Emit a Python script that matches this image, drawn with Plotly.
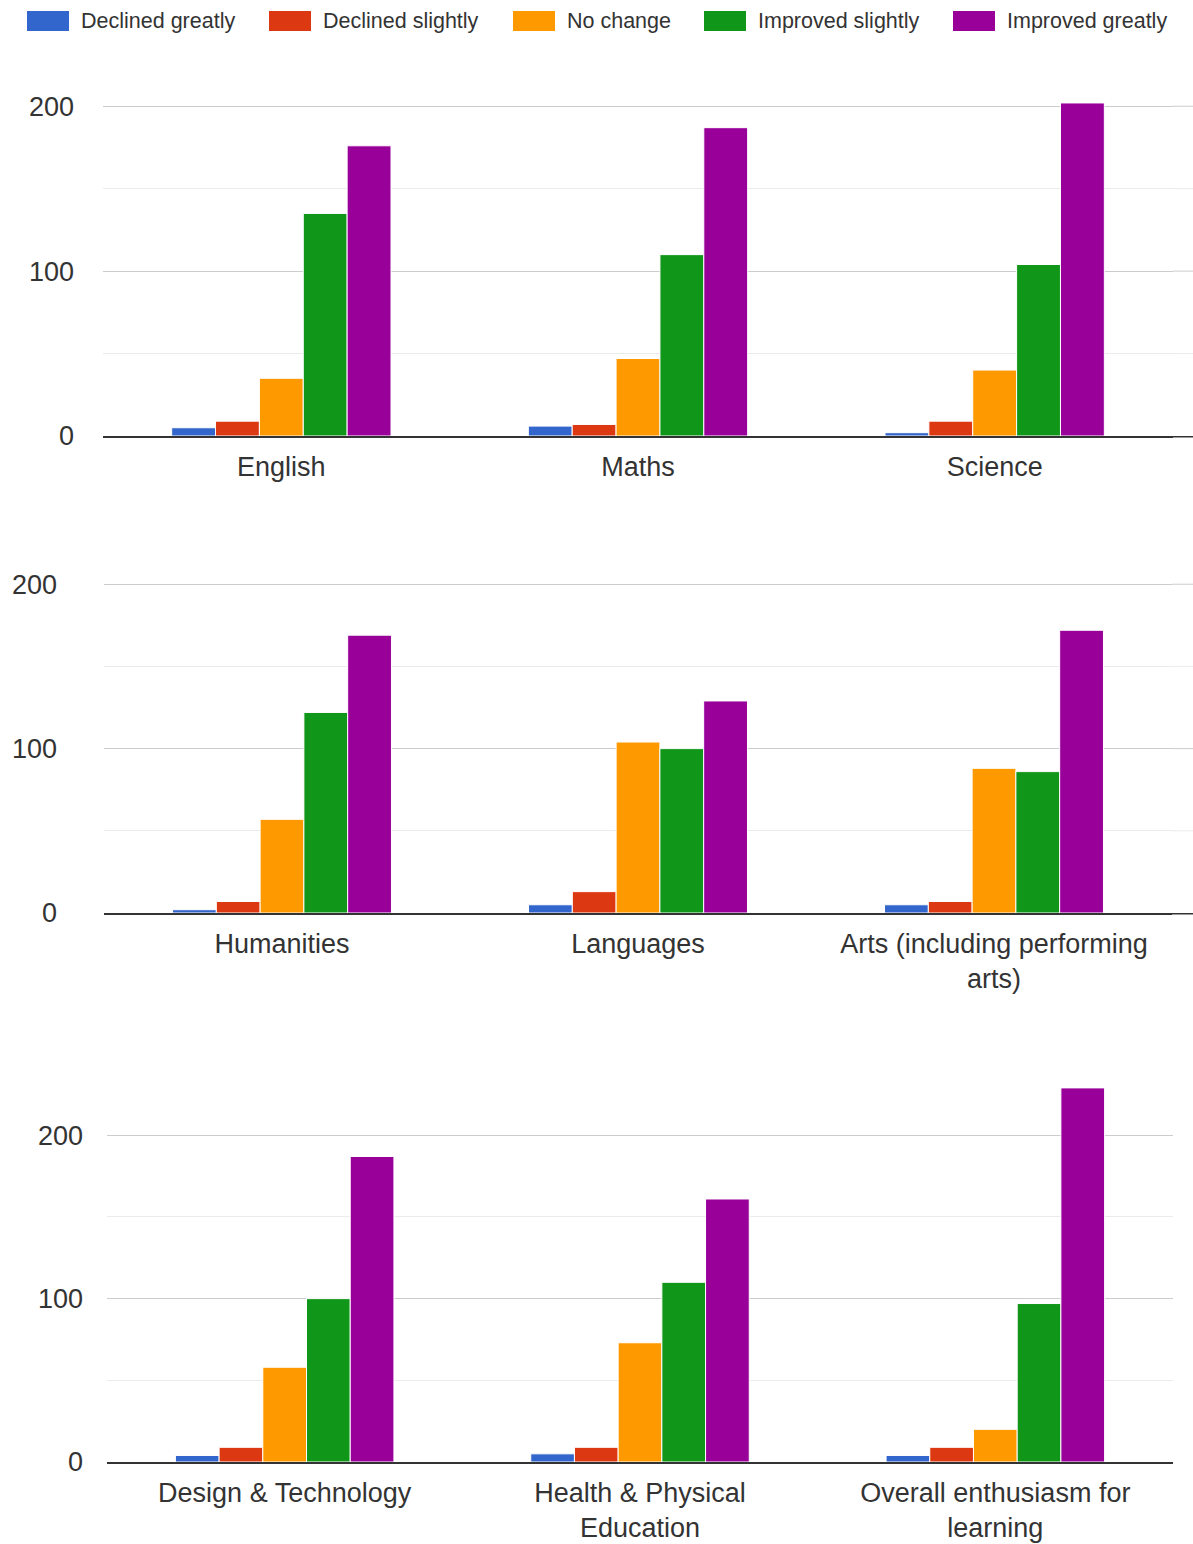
import plotly.graph_objects as go

series_names = ["Declined greatly", "Declined slightly", "No change", "Improved slightly", "Improved greatly"]
series_colors = ["#3366cc", "#dc3912", "#ff9900", "#109618", "#990099"]

panel1_cats = ["English", "Maths", "Science"]
panel2_cats = ["Humanities", "Languages", "Arts (including performing<br>arts)"]
panel3_cats = ["Design & Technology", "Health & Physical<br>Education", "Overall enthusiasm for<br>learning"]

# values per series, per panel (order follows categories)
declined_greatly = [[5, 6, 2], [2, 5, 5], [4, 5, 4]]
declined_slightly = [[9, 7, 9], [7, 13, 7], [9, 9, 9]]
no_change = [[35, 47, 40], [57, 104, 88], [58, 73, 20]]
improved_slightly = [[135, 110, 104], [122, 100, 86], [100, 110, 97]]
improved_greatly = [[176, 187, 202], [169, 129, 172], [187, 161, 229]]

y_ticks = [0, 100, 200]
y_minor = [50, 150]

series_values = [declined_greatly, declined_slightly, no_change, improved_slightly, improved_greatly]
panels = [panel1_cats, panel2_cats, panel3_cats]

W, H = 1193, 1544
FONT = "Liberation Sans, Arial, sans-serif"
TXT = "#333333"
GRID = "#cccccc"
MINOR = "#ebebeb"
BASE = "#333333"
BASE_W = 1.5

fig = go.Figure()
for p, cats in enumerate(panels):
    for s, name in enumerate(series_names):
        fig.add_trace(go.Bar(
            x=cats, y=series_values[s][p], name=name,
            marker=dict(color=series_colors[s], line=dict(color="white", width=1)),
            xaxis="x" if p == 0 else f"x{p+1}",
            yaxis="y" if p == 0 else f"y{p+1}",
            showlegend=False,
            hoverinfo="x+y+name",
        ))

# panel geometry in pixels: (left, right, bottom, top, ymax, label standoff, grid right end)
geo = [
    (103, 1173, 436, 98, 205, 28, 1193),
    (104, 1172, 913, 576, 205, 46, 1193),
    (107, 1173, 1462, 1083, 232, 23, 1173),
]

layout = dict(
    width=W, height=H,
    margin=dict(l=0, r=0, t=0, b=0),
    paper_bgcolor="white", plot_bgcolor="white",
    barmode="group", bargap=0.385, bargroupgap=0.0,
    font=dict(family=FONT, color=TXT, size=27),
    showlegend=False,
)
shapes, annotations = [], []
for i, (l, r, b, t, ymax, stand, gr) in enumerate(geo):
    sx = "" if i == 0 else str(i + 1)
    layout[f"xaxis{sx}"] = dict(
        domain=[l / W, r / W], anchor=f"y{sx}", type="category", automargin=False,
        showline=True, linecolor=BASE, linewidth=BASE_W,
        showgrid=False, ticks="", ticklabelstandoff=6,
        tickfont=dict(size=27, color=TXT), fixedrange=True,
    )
    layout[f"yaxis{sx}"] = dict(
        domain=[1 - b / H, 1 - t / H], anchor=f"x{sx}", automargin=False,
        range=[0, ymax], tickvals=y_ticks, showgrid=True, gridcolor=GRID, gridwidth=1,
        minor=dict(dtick=50, tick0=0, showgrid=True, gridcolor=MINOR, gridwidth=1),
        zeroline=False, ticks="", ticklabelstandoff=stand,
        tickfont=dict(size=27, color=TXT), fixedrange=True,
    )
    # gridlines and baseline run on past the plotting area to the right edge
    if gr > r:
        yref = f"y{sx}"
        for v in y_minor:
            shapes.append(dict(type="line", xref="paper", yref=yref, x0=r / W, x1=gr / W,
                               y0=v, y1=v, line=dict(color=MINOR, width=1), layer="below"))
        for v in y_ticks[1:]:
            shapes.append(dict(type="line", xref="paper", yref=yref, x0=r / W, x1=gr / W,
                               y0=v, y1=v, line=dict(color=GRID, width=1), layer="below"))
        yb = 1 - (b + BASE_W / 2) / H
        shapes.append(dict(type="line", xref="paper", yref="paper", x0=(r - 1) / W, x1=gr / W,
                           y0=yb, y1=yb, line=dict(color=BASE, width=BASE_W)))
fig.update_layout(**layout)

# custom legend (swatch rectangles + labels) across the top
legend_swatch_left = [27, 269, 513, 704, 953]
for x0, name, col in zip(legend_swatch_left, series_names, series_colors):
    shapes.append(dict(type="rect", xref="paper", yref="paper",
                       x0=x0 / W, x1=(x0 + 42) / W, y0=1 - 31 / H, y1=1 - 11 / H,
                       fillcolor=col, line=dict(width=0)))
    annotations.append(dict(text=name, xref="paper", yref="paper",
                            x=(x0 + 52) / W, y=1 - 21 / H, xanchor="left", yanchor="middle",
                            showarrow=False, font=dict(size=21.5, color=TXT, family=FONT)))
fig.update_layout(shapes=shapes, annotations=annotations)

fig.write_html("out.html")
